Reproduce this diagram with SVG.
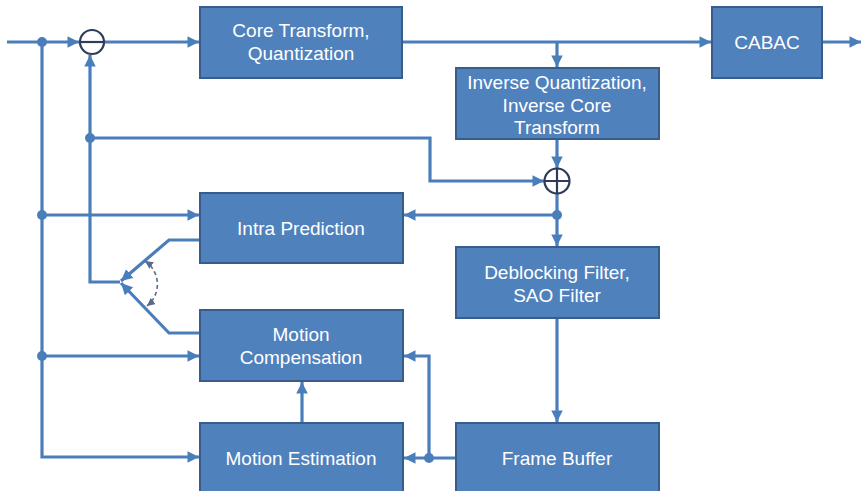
<svg xmlns="http://www.w3.org/2000/svg" width="861" height="491" viewBox="0 0 861 491">
<style>
.box{fill:#4f81bd;stroke:#385d8a;stroke-width:2}
.t{font-family:"Liberation Sans",Arial,sans-serif;font-size:19px;fill:#fff;text-anchor:middle;dominant-baseline:central}
.ln{fill:none;stroke:#4a7ebb;stroke-width:3.2}
.sum{fill:none;stroke:#2e3c5c;stroke-width:2.2}
.dot{fill:#4a7ebb}
.dash{fill:none;stroke:#5a6a88;stroke-width:1.6;stroke-dasharray:4 3}
</style>
<defs>
<marker id="a" viewBox="0 0 10 10" refX="10" refY="5" markerWidth="3.6" markerHeight="3.6" orient="auto" markerUnits="strokeWidth">
<path d="M0,0L10,5L0,10z" fill="#4a7ebb"/>
</marker>
<marker id="s" viewBox="0 0 10 10" refX="10" refY="5" markerWidth="5" markerHeight="5" orient="auto-start-reverse" markerUnits="strokeWidth">
<path d="M0,0L10,5L0,10z" fill="#5a6a88"/>
</marker>
</defs>
<rect width="861" height="491" fill="#fff"/>
<g id="connectors">
<path class="ln" d="M7,42H79" marker-end="url(#a)"/>
<path class="ln" d="M104,42H199" marker-end="url(#a)"/>
<path class="ln" d="M402,42H711" marker-end="url(#a)"/>
<path class="ln" d="M557,42V67" marker-end="url(#a)"/>
<path class="ln" d="M822,42H861" marker-end="url(#a)"/>
<path class="ln" d="M557,139V168" marker-end="url(#a)"/>
<path class="ln" d="M90,138H430V181H544" marker-end="url(#a)"/>
<path class="ln" d="M120,282H90V55" marker-end="url(#a)"/>
<path class="ln" d="M42,42V457H199" marker-end="url(#a)"/>
<path class="ln" d="M42,215H199" marker-end="url(#a)"/>
<path class="ln" d="M42,356H199" marker-end="url(#a)"/>
<path class="ln" d="M557,194V246" marker-end="url(#a)"/>
<path class="ln" d="M557,215H404" marker-end="url(#a)"/>
<path class="ln" d="M557,318V422" marker-end="url(#a)"/>
<path class="ln" d="M456,458H404" marker-end="url(#a)"/>
<path class="ln" d="M429,458V356H404" marker-end="url(#a)"/>
<path class="ln" d="M302,423V382" marker-end="url(#a)"/>
<path class="ln" d="M200,240H169L121,281" marker-end="url(#a)"/>
<path class="ln" d="M200,333H169L121,283" marker-end="url(#a)"/>
<path class="dash" d="M145,261A28,28 0 0 1 147,306" marker-start="url(#s)" marker-end="url(#s)"/>
<circle class="dot" cx="42" cy="42" r="5"/>
<circle class="dot" cx="90" cy="138" r="5"/>
<circle class="dot" cx="42" cy="215" r="5"/>
<circle class="dot" cx="42" cy="356" r="5"/>
<circle class="dot" cx="557" cy="215" r="5"/>
<circle class="dot" cx="429" cy="458" r="5"/>
</g>
<g id="sum1">
<circle class="sum" cx="92" cy="42" r="12"/>
<path class="sum" d="M80,42H104"/>
</g>
<g id="sum2">
<circle class="sum" cx="557" cy="181" r="12.5"/>
<path class="sum" d="M544.5,181H569.5M557,168.5V193.5"/>
</g>
<g id="core">
<rect class="box" x="200" y="7" width="202" height="71"/>
<text class="t" x="301" y="30">Core Transform,</text>
<text class="t" x="301" y="53">Quantization</text>
</g>
<g id="cabac">
<rect class="box" x="712" y="7" width="110" height="71"/>
<text class="t" x="767" y="42">CABAC</text>
</g>
<g id="invq">
<rect class="box" x="456" y="68" width="203" height="71"/>
<text class="t" x="557" y="82">Inverse Quantization,</text>
<text class="t" x="557" y="105">Inverse Core</text>
<text class="t" x="557" y="127">Transform</text>
</g>
<g id="intra">
<rect class="box" x="200" y="193" width="203" height="70"/>
<text class="t" x="301" y="228">Intra Prediction</text>
</g>
<g id="mc">
<rect class="box" x="200" y="310" width="203" height="71"/>
<text class="t" x="301" y="334">Motion</text>
<text class="t" x="301" y="357">Compensation</text>
</g>
<g id="me">
<rect class="box" x="200" y="423" width="203" height="70"/>
<text class="t" x="301" y="458">Motion Estimation</text>
</g>
<g id="deblock">
<rect class="box" x="456" y="247" width="203" height="71"/>
<text class="t" x="557" y="272">Deblocking Filter,</text>
<text class="t" x="557" y="295">SAO Filter</text>
</g>
<g id="fb">
<rect class="box" x="456" y="423" width="203" height="70"/>
<text class="t" x="557" y="458">Frame Buffer</text>
</g>
</svg>
